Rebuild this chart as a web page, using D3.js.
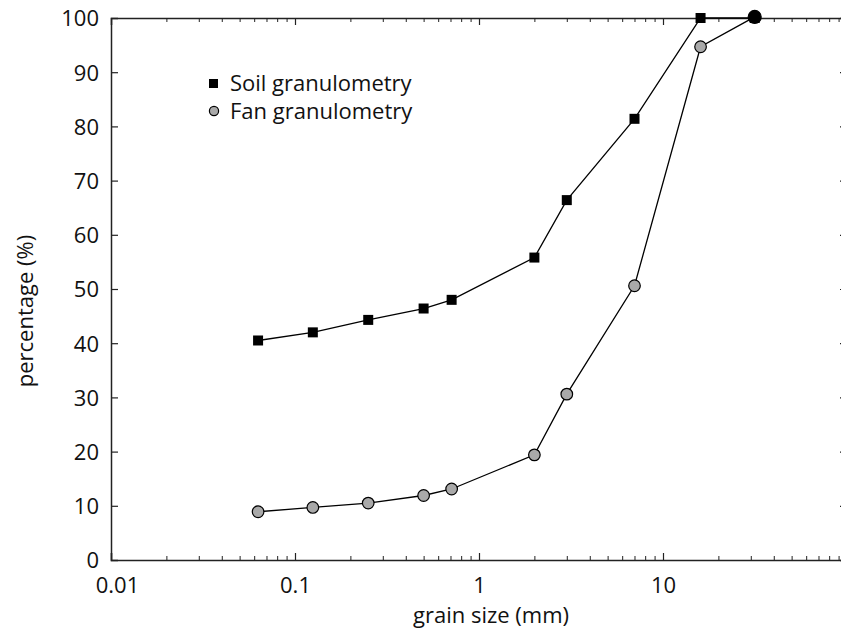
<!DOCTYPE html>
<html><head><meta charset="utf-8">
<script src="https://cdn.jsdelivr.net/npm/d3@7"></script>
<style>body{margin:0;background:#fff}svg{display:block}text{font-family:"Open Sans",sans-serif;fill:#111}</style>
</head><body><svg id="c" width="841" height="630"></svg>
<script>
const grainSize = [0.063, 0.125, 0.25, 0.5, 0.71, 2, 3, 7, 16, 31.5];
const soilPct = [40.5, 42.0, 44.3, 46.4, 48.0, 55.8, 66.4, 81.4, 100, 100];
const fanPct = [8.9, 9.7, 10.5, 11.9, 13.1, 19.4, 30.6, 50.6, 94.7, 100.2];
const seriesNames = ["Soil granulometry", "Fan granulometry"];
const xTickValues = [0.01, 0.1, 1, 10];
const xTickLabels = ["0.01", "0.1", "1", "10"];
const yTickValues = [0, 10, 20, 30, 40, 50, 60, 70, 80, 90, 100];

const svg = d3.select("#c");
const x = d3.scaleLog().domain([0.01, 100]).range([111, 847]);
const y = d3.scaleLinear().domain([0, 100]).range([560, 18]);
const axisColor = "#222";
const fs = 22;
const ff = '"Open Sans",sans-serif';

const minor = [];
for (let d = 0.01; d < 100; d *= 10) for (let k = 2; k <= 9; k++) minor.push(+(d * k).toPrecision(3));

function styleAxis(g){ g.select(".domain").attr("stroke", axisColor).attr("stroke-width", 1.5); g.selectAll(".tick line").attr("stroke", axisColor).attr("stroke-width", 1.2); }

// bottom axis
const gb = svg.append("g").attr("transform", `translate(0,${y(0)})`)
  .call(d3.axisBottom(x).tickValues(xTickValues).tickSize(-7).tickPadding(17).tickFormat((d,i)=>xTickLabels[i]));
gb.call(styleAxis);
gb.selectAll("text").attr("font-size", fs).style("font-family", ff).attr("fill", "#111");
gb.selectAll(".tick").filter(d => d === 0.01).select("text").attr("x", 6);
svg.append("g").attr("transform", `translate(0,${y(0)})`)
  .call(d3.axisBottom(x).tickValues(minor).tickSize(-4).tickFormat(""))
  .call(g=>g.select(".domain").remove()).selectAll("line").attr("stroke", axisColor);

// top axis
const gt = svg.append("g").attr("transform", `translate(0,${y(100)})`)
  .call(d3.axisTop(x).tickValues(xTickValues.slice(1)).tickSize(-7).tickFormat(""));
gt.call(styleAxis);
svg.append("g").attr("transform", `translate(0,${y(100)})`)
  .call(d3.axisTop(x).tickValues(minor).tickSize(-4).tickFormat(""))
  .call(g=>g.select(".domain").remove()).selectAll("line").attr("stroke", axisColor);

// left axis
const gl = svg.append("g").attr("transform", `translate(${x(0.01)},0)`)
  .call(d3.axisLeft(y).tickValues(yTickValues).tickSize(-7).tickPadding(12));
gl.call(styleAxis);
gl.selectAll("text").attr("font-size", fs).style("font-family", ff).attr("fill", "#111").attr("dy", "0.36em");
gl.selectAll(".tick").filter(d => d === 0 || d === 100).select("line").remove();

// right axis ticks
const gr = svg.append("g").attr("transform", `translate(${x(100)},0)`)
  .call(d3.axisRight(y).tickValues(yTickValues.slice(1, -1)).tickSize(-7).tickFormat(""));
gr.call(styleAxis);

// axis titles
svg.append("text").attr("x", 491).attr("y", 623).attr("text-anchor", "middle").attr("font-size", fs).text("grain size (mm)");
svg.append("text").attr("transform", `translate(33,311) rotate(-90)`).attr("text-anchor", "middle").attr("font-size", fs).text("percentage (%)");

const line = d3.line().x((d,i)=>x(grainSize[i])).y(d=>y(d));
svg.append("path").datum(fanPct).attr("d", line).attr("fill", "none").attr("stroke", "#000").attr("stroke-width", 1.3);
svg.append("path").datum(soilPct).attr("d", line).attr("fill", "none").attr("stroke", "#000").attr("stroke-width", 1.3);

// fan markers
svg.append("g").selectAll("circle").data(fanPct).join("circle")
  .attr("cx", (d,i)=>x(grainSize[i])).attr("cy", d=>y(d)).attr("r", (d,i)=> Math.abs(d - soilPct[i]) < 1 ? 6.5 : 5.8)
  .attr("fill", (d,i)=> Math.abs(d - soilPct[i]) < 1 ? "#000" : "#a9a9a9").attr("stroke", "#000").attr("stroke-width", 1.2);
// soil markers
const sq = 10;
svg.append("g").selectAll("rect").data(soilPct).join("rect")
  .attr("x", (d,i)=>x(grainSize[i]) - sq/2).attr("y", d=>y(d) - sq/2).attr("width", sq).attr("height", sq).attr("fill", "#000");

// legend
const lg = svg.append("g");
lg.append("rect").attr("x", 209).attr("y", 79).attr("width", 9).attr("height", 9).attr("fill", "#000");
lg.append("text").attr("x", 230).attr("y", 91).attr("font-size", fs).text(seriesNames[0]);
lg.append("circle").attr("cx", 214).attr("cy", 111).attr("r", 4.6).attr("fill", "#a9a9a9").attr("stroke", "#000").attr("stroke-width", 1.2);
lg.append("text").attr("x", 230).attr("y", 119).attr("font-size", fs).text(seriesNames[1]);
</script></body></html>
